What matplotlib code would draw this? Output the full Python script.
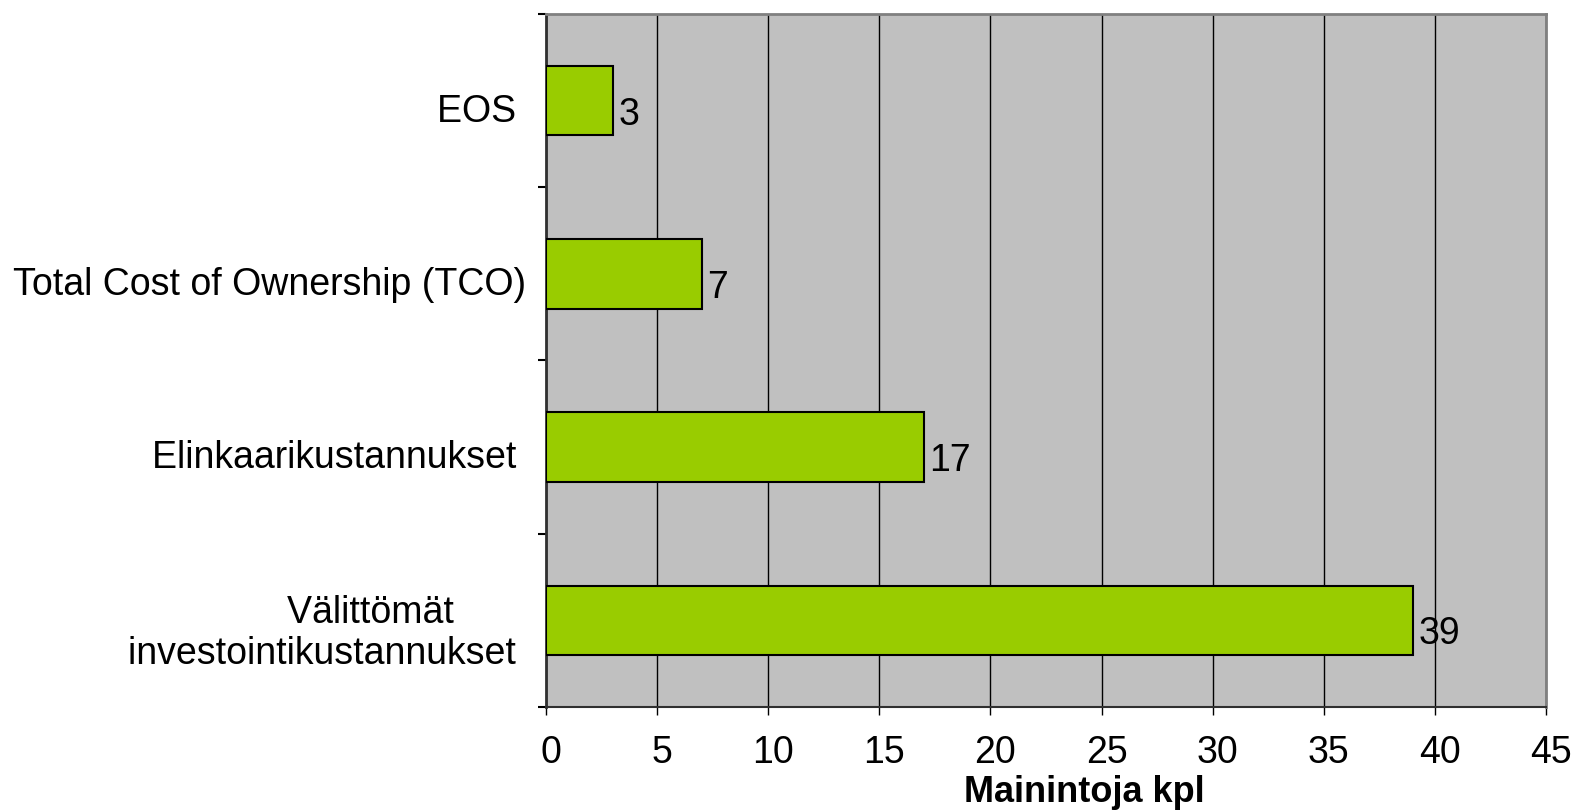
import numpy as np
import matplotlib.pyplot as plt
import matplotlib.transforms as mtransforms

plt.rcParams['font.family'] = ['Liberation Sans', 'DejaVu Sans']

categories = ['EOS ', 'Total Cost of Ownership (TCO)', 'Elinkaarikustannukset ',
              'Välittömät       \ninvestointikustannukset ']
values = [3, 7, 17, 39]
x_ticks = [0, 5, 10, 15, 20, 25, 30, 35, 40, 45]

fig = plt.figure(figsize=(15.77, 8.11), dpi=100)
ax = fig.add_axes([546 / 1577, 1 - 707 / 811, 1000 / 1577, 693 / 811])
ax.set_facecolor('#C0C0C0')

pos = np.arange(len(categories))
ax.barh(pos, values, height=0.4, color='#99CC00', edgecolor='black',
        linewidth=1.5, zorder=3)
for p, v in zip(pos, values):
    ax.annotate(str(v), (v, p), xytext=(4, -10), textcoords='offset points',
                ha='left', va='center', fontsize=27)

ax.set_xlim(0, 45)
ax.set_ylim(len(categories) - 0.5, -0.5)
ax.set_xticks(x_ticks)
ax.tick_params(axis='x', labelsize=27, length=6, width=1, pad=14, direction='out')
ax.xaxis.grid(True, color='black', linewidth=1, zorder=1)
xshift = mtransforms.ScaledTranslation(5 / 100, 0, fig.dpi_scale_trans)
for lbl in ax.get_xticklabels():
    lbl.set_transform(lbl.get_transform() + xshift)

ax.set_yticks(np.arange(len(categories) + 1) - 0.5)
ax.set_yticklabels([])
ax.set_yticks(pos, minor=True)
ax.set_yticklabels(categories, minor=True, fontsize=27, multialignment='right',
                   linespacing=1.18)
ax.tick_params(axis='y', which='major', length=6, width=1.5, direction='out')
ax.tick_params(axis='y', which='minor', length=0, pad=14)
shift = mtransforms.ScaledTranslation(0, -7 / 100, fig.dpi_scale_trans)
for lbl in ax.get_yticklabels(minor=True):
    lbl.set_transform(lbl.get_transform() + shift)

ax.set_xlabel('Mainintoja kpl', fontsize=26, fontweight='bold', labelpad=3, x=0.538)

ax.spines['left'].set_color('#303030')
ax.spines['left'].set_linewidth(2)
ax.spines['bottom'].set_color('#303030')
ax.spines['bottom'].set_linewidth(1.5)
ax.spines['top'].set_color('#808080')
ax.spines['top'].set_linewidth(2)
ax.spines['right'].set_color('#808080')
ax.spines['right'].set_linewidth(2)

fig.savefig('out.png', dpi=100)
